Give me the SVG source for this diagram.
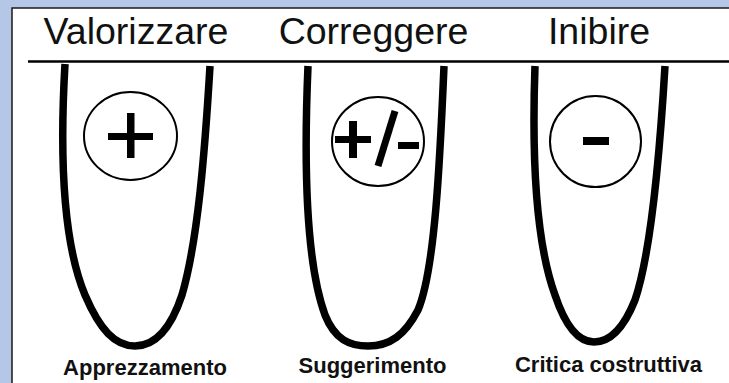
<svg xmlns="http://www.w3.org/2000/svg" width="729" height="383" viewBox="0 0 729 383">
<style>
.title{font-family:"Liberation Sans",Arial,sans-serif;font-size:37.5px;fill:#111;text-anchor:middle}
.label{font-family:"Liberation Sans",Arial,sans-serif;font-size:22px;font-weight:bold;fill:#111;text-anchor:middle}
.u{fill:none;stroke:#000;stroke-width:7.5;stroke-linecap:butt;stroke-linejoin:round}
.ring{fill:none;stroke:#000;stroke-width:2}
.sym{fill:#000}
</style>
<rect x="0" y="0" width="729" height="383" fill="#b4c7e7"/>
<rect x="12" y="8" width="730" height="390" fill="#fff" stroke="#1a1a1a" stroke-width="1.5"/>
<g id="line">
<line x1="28" y1="61.5" x2="729" y2="61.5" stroke="#000" stroke-width="2.5"/>
</g>
<g id="valorizzare">
<text class="title" x="136" y="44">Valorizzare</text>
<path class="u" d="M65,64 C60,150 62,240 85,295 C100,330 115,346 135,346 C158,346 172,325 182,295 C198,240 205,150 210,66"/>
<ellipse class="ring" cx="130.5" cy="136" rx="46.5" ry="44"/>
<rect class="sym" x="108" y="133" width="45" height="7"/>
<rect class="sym" x="127" y="113" width="7.5" height="45"/>
<text class="label" x="145" y="375">Apprezzamento</text>
</g>
<g id="correggere">
<text class="title" x="373.5" y="44">Correggere</text>
<path class="u" d="M308,66 C304,160 305,260 325,315 C335,340 350,346 368,346 C390,346 405,335 418,310 C435,270 440,160 444,66"/>
<ellipse class="ring" cx="378" cy="141.5" rx="46" ry="44.5"/>
<rect class="sym" x="335" y="136" width="36" height="7"/>
<rect class="sym" x="349" y="121" width="8" height="37"/>
<line x1="395" y1="111" x2="378" y2="166" stroke="#000" stroke-width="7"/>
<rect class="sym" x="398" y="142" width="21" height="7"/>
<text class="label" x="372.5" y="373">Suggerimento</text>
</g>
<g id="inibire">
<text class="title" x="599" y="44">Inibire</text>
<path class="u" d="M535,66 C532,150 535,240 555,295 C565,325 578,342 594,342 C612,342 625,325 635,300 C652,250 660,150 665,66"/>
<ellipse class="ring" cx="595.5" cy="141.5" rx="45.5" ry="45.5"/>
<rect class="sym" x="583" y="137" width="26" height="8"/>
<text class="label" x="608.5" y="372">Critica costruttiva</text>
</g>
</svg>
